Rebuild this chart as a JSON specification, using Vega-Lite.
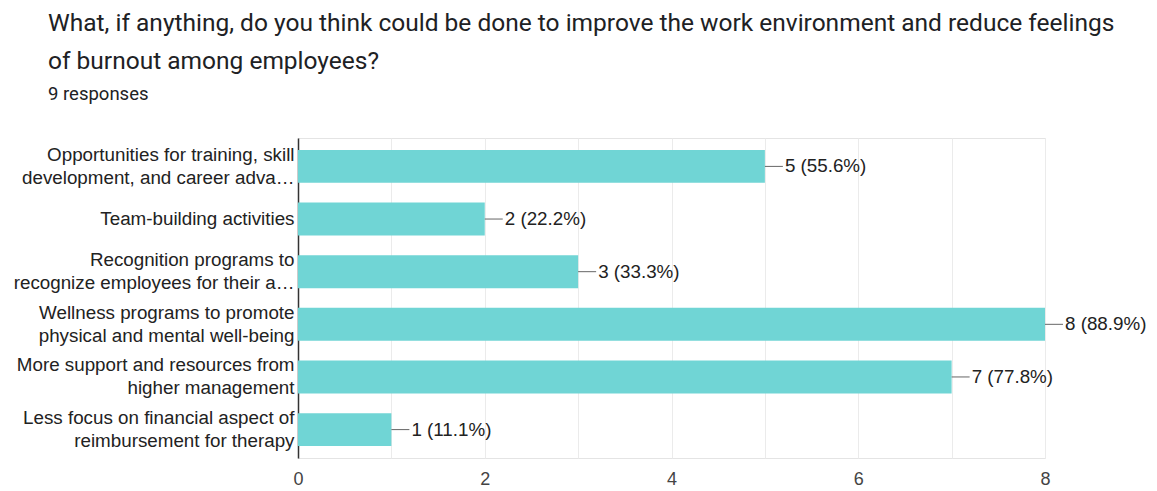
{
  "$schema": "https://vega.github.io/schema/vega-lite/v6.json",
  "width": 747,
  "height": 320,
  "autosize": {"type": "none"},
  "padding": {"left": 298, "top": 138, "right": 112, "bottom": 33},
  "background": "white",
  "title": {
    "text": ["What, if anything, do you think could be done to improve the work environment and reduce feelings", "of burnout among employees?"],
    "subtitle": "9 responses",
    "anchor": "start",
    "frame": "group",
    "dx": -250,
    "font": "Roboto",
    "fontSize": 24.5,
    "fontWeight": "normal",
    "color": "#202124",
    "lineHeight": 38,
    "subtitleFont": "Roboto",
    "subtitleFontSize": 18.5,
    "subtitleColor": "#202124",
    "subtitlePadding": 10,
    "offset": 34
  },
  "config": {"view": {"stroke": "#e4e4e4"}},
  "data": {
    "values": [
      {"option": "Opportunities for training, skill|development, and career adva…", "count": 5, "label": "5 (55.6%)"},
      {"option": "Team-building activities", "count": 2, "label": "2 (22.2%)"},
      {"option": "Recognition programs to|recognize employees for their a…", "count": 3, "label": "3 (33.3%)"},
      {"option": "Wellness programs to promote|physical and mental well-being", "count": 8, "label": "8 (88.9%)"},
      {"option": "More support and resources from|higher management", "count": 7, "label": "7 (77.8%)"},
      {"option": "Less focus on financial aspect of|reimbursement for therapy", "count": 1, "label": "1 (11.1%)"}
    ]
  },
  "encoding": {
    "y": {
      "field": "option",
      "type": "nominal",
      "sort": null,
      "scale": {"paddingInner": 0.375, "paddingOuter": 0.227},
      "axis": {
        "title": null,
        "labelExpr": "split(datum.value, '|')",
        "labelFont": "Liberation Sans",
        "labelFontSize": 18.8,
        "labelColor": "#222222",
        "labelLineHeight": 23,
        "labelLimit": 0,
        "labelPadding": 4,
        "labelOffset": {"condition": {"test": "indexof(datum.value, '|') >= 0", "value": -11.5}, "value": 0},
        "ticks": false,
        "domainColor": "#333333",
        "domainWidth": 1.5,
        "grid": false
      }
    }
  },
  "layer": [
    {
      "mark": {"type": "bar", "color": "#70d5d5"},
      "encoding": {
        "x": {
          "field": "count",
          "type": "quantitative",
          "scale": {"domain": [0, 8], "nice": false},
          "axis": {
            "title": null,
            "values": [0, 1, 2, 3, 4, 5, 6, 7, 8],
            "format": "d",
            "labelExpr": "datum.value % 2 == 0 ? datum.label : ''",
            "labelFlush": false,
            "labelFont": "Liberation Sans",
            "labelFontSize": 18,
            "labelColor": "#444444",
            "labelPadding": 12,
            "ticks": false,
            "domain": false,
            "grid": true,
            "gridColor": "#ebebeb"
          }
        }
      }
    },
    {
      "mark": {"type": "rule", "color": "#666666", "strokeWidth": 1, "x2Offset": 18},
      "encoding": {
        "x": {"field": "count", "type": "quantitative"},
        "x2": {"field": "count"}
      }
    },
    {
      "mark": {"type": "text", "align": "left", "baseline": "middle", "dx": 20, "font": "Liberation Sans", "fontSize": 18.8, "color": "#222222"},
      "encoding": {
        "x": {"field": "count", "type": "quantitative"},
        "text": {"field": "label"}
      }
    }
  ]
}
